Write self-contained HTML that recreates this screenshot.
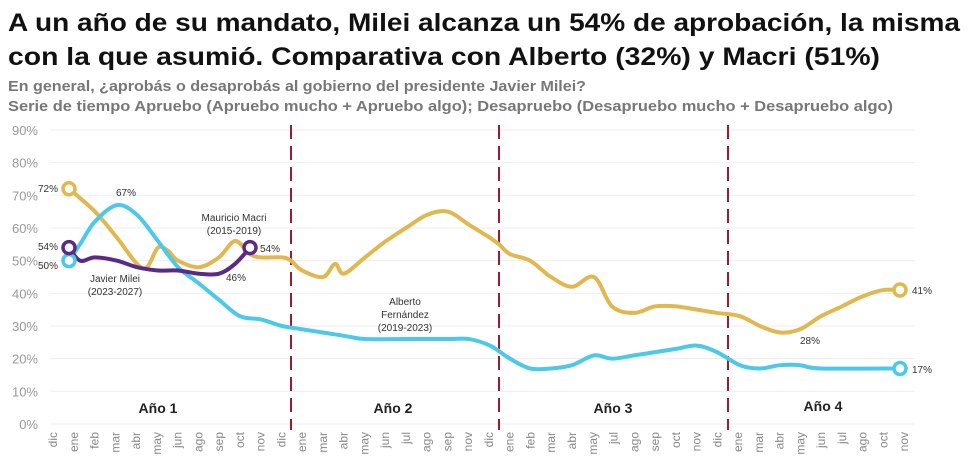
<!DOCTYPE html>
<html><head><meta charset="utf-8"><style>
body{margin:0;background:#fff;width:970px;height:470px;overflow:hidden}
svg text{font-family:"Liberation Sans",sans-serif}
</style></head><body>
<svg id="s" width="970" height="470" xmlns="http://www.w3.org/2000/svg">
<text x="8" y="31" font-size="25" font-weight="bold" fill="#111" textLength="952" lengthAdjust="spacingAndGlyphs">A un año de su mandato, Milei alcanza un 54% de aprobación, la misma</text>
<text x="8" y="65" font-size="25" font-weight="bold" fill="#111" textLength="872" lengthAdjust="spacingAndGlyphs">con la que asumió. Comparativa con Alberto (32%) y Macri (51%)</text>
<text x="8" y="91" font-size="14.5" font-weight="bold" fill="#777" textLength="578" lengthAdjust="spacingAndGlyphs">En general, ¿aprobás o desaprobás al gobierno del presidente Javier Milei?</text>
<text x="8" y="111" font-size="14.5" font-weight="bold" fill="#777" textLength="885" lengthAdjust="spacingAndGlyphs">Serie de tiempo Apruebo (Apruebo mucho + Apruebo algo); Desapruebo (Desapruebo mucho + Desapruebo algo)</text>
<g id="grid"></g>
<g id="xl" font-size="12" fill="#888"></g>
<g stroke="#9b1b30" stroke-width="2" stroke-dasharray="14,7">
<line x1="291" y1="125" x2="291" y2="430"/><line x1="499" y1="125" x2="499" y2="430"/><line x1="728" y1="125" x2="728" y2="430"/></g>
<g font-size="14" font-weight="bold" fill="#222" text-anchor="middle">
<text x="158" y="413">Año 1</text><text x="393" y="413">Año 2</text><text x="613" y="413">Año 3</text><text x="823" y="411">Año 4</text></g>
<g id="lines" fill="none" stroke-width="4" stroke-linecap="round"></g>
<g fill="#fff" stroke-width="3.5">
<circle cx="69" cy="188.8" r="6" stroke="#e1b84f"/>
<circle cx="69" cy="260.6" r="6" stroke="#4cc8e8"/>
<circle cx="69" cy="247.6" r="6" stroke="#5b2a86"/>
<circle cx="250" cy="247.6" r="6" stroke="#5b2a86"/>
<circle cx="900" cy="290" r="6" stroke="#e1b84f"/>
<circle cx="900" cy="368.5" r="6" stroke="#4cc8e8"/>
</g>
<g font-size="10" fill="#333">
<text x="38" y="192">72%</text><text x="116" y="196">67%</text>
<text x="38" y="250">54%</text><text x="38" y="269">50%</text>
<text x="260" y="252">54%</text><text x="226" y="281">46%</text>
<text x="800" y="344">28%</text><text x="912" y="294">41%</text><text x="912" y="373">17%</text>
<g text-anchor="middle"><text x="115" y="282">Javier Milei</text><text x="115" y="295">(2023-2027)</text>
<text x="234" y="221">Mauricio Macri</text><text x="234" y="234">(2015-2019)</text>
<text x="405" y="305">Alberto</text><text x="405" y="318">Fernández</text><text x="405" y="331">(2019-2023)</text></g></g>
</svg>
<script>
const NS="http://www.w3.org/2000/svg";
const Y=p=>424-p*3.267;
const g=document.getElementById("grid");
for(let i=0;i<=9;i++){const y=Y(i*10);
let l=document.createElementNS(NS,"line");l.setAttribute("x1",50);l.setAttribute("x2",915);l.setAttribute("y1",y);l.setAttribute("y2",y);l.setAttribute("stroke","#eee");g.appendChild(l);
let t=document.createElementNS(NS,"text");t.setAttribute("x",38);t.setAttribute("y",y+5);t.setAttribute("text-anchor","end");t.setAttribute("font-size","13");t.setAttribute("fill","#999");t.textContent=(i*10)+"%";g.appendChild(t);}
const labs="dic ene feb mar abr may jun ago sep oct nov dic ene mar abr may jun jul ago sep nov dic ene feb mar abr may jul ago sep oct nov dic ene mar abr may jun jul ago oct nov".split(" ");
const xl=document.getElementById("xl");
labs.forEach((s,i)=>{const x=53+i*20.76;let t=document.createElementNS(NS,"text");t.setAttribute("transform",`translate(${x+4},432) rotate(-90)`);t.setAttribute("text-anchor","end");t.textContent=s;xl.appendChild(t);});
function path(pts){pts=pts.map(p=>[p[0],Y(p[1])]);let d=`M${pts[0][0]},${pts[0][1]}`;
for(let i=0;i<pts.length-1;i++){const p0=pts[i-1]||pts[i],p1=pts[i],p2=pts[i+1],p3=pts[i+2]||p2;
d+=` C${p1[0]+(p2[0]-p0[0])/6},${p1[1]+(p2[1]-p0[1])/6} ${p2[0]-(p3[0]-p1[0])/6},${p2[1]-(p3[1]-p1[1])/6} ${p2[0]},${p2[1]}`;}return d;}
const yel=[[69,72],[95,65],[117,57],[137,49],[147,48],[158,54],[168,53],[178,50],[199,48],[219,51],[235,56],[250,52],[261,51],[282,51],[291,50],[302,47],[323,45],[335,49],[344,46],[365,51],[386,56],[406,60],[427,64],[448,65],[469,61],[490,57],[499,55],[510,52],[530,50],[551,45],[572,42],[594,45],[612,36],[634,34],[655,36],[676,36],[697,35],[717,34],[740,33],[760,30],[780,28],[800,29],[821,33],[842,36],[862,39],[883,41],[900,41]];
const cy=[[69,50],[80,55],[95,62],[117,67],[137,64],[158,56],[178,48],[199,43],[219,38],[240,33],[261,32],[282,30],[302,29],[323,28],[344,27],[365,26],[406,26],[448,26],[469,26],[490,24],[510,20],[530,17],[551,17],[572,18],[594,21],[612,20],[634,21],[655,22],[676,23],[697,24],[717,22],[740,18],[760,17],[780,18],[800,18],[821,17],[900,17]];
const pu=[[69,54],[80,50],[95,51],[117,50],[137,48],[158,47],[178,47],[199,46],[219,46],[235,49],[250,54]];
const L=document.getElementById("lines");
[[yel,"#e1b84f"],[cy,"#4cc8e8"],[pu,"#5b2a86"]].forEach(([p,c])=>{let e=document.createElementNS(NS,"path");e.setAttribute("d",path(p));e.setAttribute("stroke",c);L.appendChild(e);});
</script>
</body></html>
